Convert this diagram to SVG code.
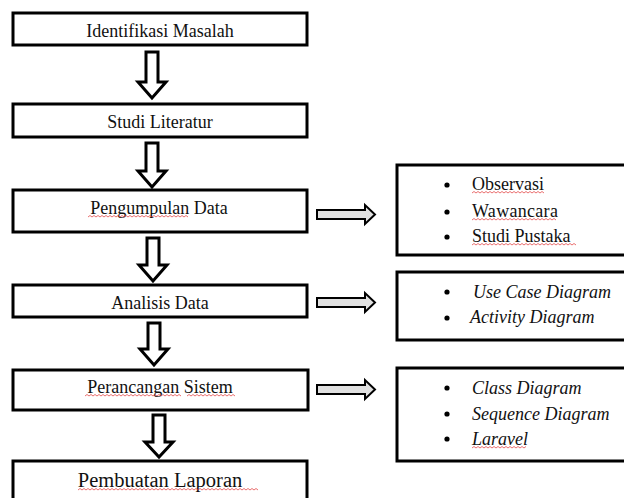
<svg xmlns="http://www.w3.org/2000/svg" width="624" height="498" viewBox="0 0 624 498">
<style>
.box{fill:#fff;stroke:#000;stroke-width:3}
text{font-family:"Liberation Serif","Times New Roman",serif;fill:#111}
.t{font-size:18px;text-anchor:middle}
.r{font-size:18px}
.i{font-style:italic}
.darr{fill:#fff;stroke:#000;stroke-width:3;stroke-linejoin:miter}
.rarr{fill:#e0e0e0;stroke:#000;stroke-width:2}
.sq{fill:none;stroke:#e03030;stroke-width:0.7}
</style>
<defs>
<circle id="dot" r="2.6" fill="#000"/>
</defs>
<rect width="624" height="498" fill="#fff"/>

<g id="connectors">
<path class="darr" d="M146 52 H158 V82 H166 L152 98 L138 82 H146 Z"/>
<path class="darr" d="M146 143 H158 V171 H166 L152 187 L138 171 H146 Z"/>
<path class="darr" d="M147 238 H159 V265 H167 L153 281 L139 265 H147 Z"/>
<path class="darr" d="M148 323 H160 V349 H168 L154 365 L140 349 H148 Z"/>
<path class="darr" d="M153 415 H165 V442 H173 L159 457 L145 442 H153 Z"/>
<path class="rarr" d="M317 210 H365 V205 L375 214.5 L365 224 V219 H317 Z"/>
<path class="rarr" d="M317 298 H365 V293 L375 302.5 L365 312 V307 H317 Z"/>
<path class="rarr" d="M317 385 H365 V380 L375 389.5 L365 399 V394 H317 Z"/>
</g>

<g id="n1"><rect class="box" x="13" y="13" width="294" height="32"/><text class="t" x="160" y="37" font-family="Liberation Serif, serif">Identifikasi Masalah</text></g>
<g id="n2"><rect class="box" x="13" y="104" width="294" height="33"/><text class="t" x="160" y="128" font-family="Liberation Serif, serif">Studi Literatur</text></g>
<g id="n3"><rect class="box" x="13" y="190" width="294" height="42"/><text class="t" x="159" y="214" font-family="Liberation Serif, serif">Pengumpulan  Data</text>
<path class="sq" d="M88 217 l2 -1.5 l2 1.5 l2 -1.5 l2 1.5 l2 -1.5 l2 1.5 l2 -1.5 l2 1.5 l2 -1.5 l2 1.5 l2 -1.5 l2 1.5 l2 -1.5 l2 1.5 l2 -1.5 l2 1.5 l2 -1.5 l2 1.5 l2 -1.5 l2 1.5 l2 -1.5 l2 1.5 l2 -1.5 l2 1.5 l2 -1.5 l2 1.5 l2 -1.5 l2 1.5 l2 -1.5 l2 1.5 l2 -1.5 l2 1.5 l2 -1.5 l2 1.5 l2 -1.5 l2 1.5 l2 -1.5 l2 1.5 l2 -1.5 l2 1.5 l2 -1.5 l2 1.5 l2 -1.5 l2 1.5 l2 -1.5 l2 1.5 l2 -1.5 l2 1.5 l2 -1.5 l2 1.5"/></g>
<g id="n4"><rect class="box" x="13" y="285" width="294" height="32"/><text class="t" x="160" y="309" font-family="Liberation Serif, serif">Analisis Data</text></g>
<g id="n5"><rect class="box" x="13" y="370" width="295" height="40"/><text class="t" x="160" y="393" font-family="Liberation Serif, serif">Perancangan  Sistem</text>
<path class="sq" d="M85 396 l2 -1.5 l2 1.5 l2 -1.5 l2 1.5 l2 -1.5 l2 1.5 l2 -1.5 l2 1.5 l2 -1.5 l2 1.5 l2 -1.5 l2 1.5 l2 -1.5 l2 1.5 l2 -1.5 l2 1.5 l2 -1.5 l2 1.5 l2 -1.5 l2 1.5 l2 -1.5 l2 1.5 l2 -1.5 l2 1.5 l2 -1.5 l2 1.5 l2 -1.5 l2 1.5 l2 -1.5 l2 1.5 l2 -1.5 l2 1.5 l2 -1.5 l2 1.5 l2 -1.5 l2 1.5 l2 -1.5 l2 1.5 l2 -1.5 l2 1.5 l2 -1.5 l2 1.5 l2 -1.5 l2 1.5 l2 -1.5 l2 1.5 l2 -1.5 l2 1.5"/>
<path class="sq" d="M187 396 l2 -1.5 l2 1.5 l2 -1.5 l2 1.5 l2 -1.5 l2 1.5 l2 -1.5 l2 1.5 l2 -1.5 l2 1.5 l2 -1.5 l2 1.5 l2 -1.5 l2 1.5 l2 -1.5 l2 1.5 l2 -1.5 l2 1.5 l2 -1.5 l2 1.5 l2 -1.5 l2 1.5 l2 -1.5 l2 1.5"/></g>
<g id="n6"><rect class="box" x="13" y="461" width="294" height="45"/><text class="t" x="160" y="487" font-family="Liberation Serif, serif" style="font-size:20.5px">Pembuatan Laporan</text>
<path class="sq" d="M78 490 l2 -1.5 l2 1.5 l2 -1.5 l2 1.5 l2 -1.5 l2 1.5 l2 -1.5 l2 1.5 l2 -1.5 l2 1.5 l2 -1.5 l2 1.5 l2 -1.5 l2 1.5 l2 -1.5 l2 1.5 l2 -1.5 l2 1.5 l2 -1.5 l2 1.5 l2 -1.5 l2 1.5 l2 -1.5 l2 1.5 l2 -1.5 l2 1.5 l2 -1.5 l2 1.5 l2 -1.5 l2 1.5 l2 -1.5 l2 1.5 l2 -1.5 l2 1.5 l2 -1.5 l2 1.5 l2 -1.5 l2 1.5 l2 -1.5 l2 1.5 l2 -1.5 l2 1.5 l2 -1.5 l2 1.5 l2 -1.5 l2 1.5 l2 -1.5 l2 1.5 l2 -1.5 l2 1.5 l2 -1.5 l2 1.5 l2 -1.5 l2 1.5 l2 -1.5 l2 1.5 l2 -1.5 l2 1.5 l2 -1.5 l2 1.5 l2 -1.5 l2 1.5 l2 -1.5 l2 1.5 l2 -1.5 l2 1.5 l2 -1.5 l2 1.5 l2 -1.5 l2 1.5 l2 -1.5 l2 1.5 l2 -1.5 l2 1.5 l2 -1.5 l2 1.5 l2 -1.5 l2 1.5 l2 -1.5 l2 1.5 l2 -1.5 l2 1.5 l2 -1.5 l2 1.5 l2 -1.5 l2 1.5 l2 -1.5 l2 1.5 l2 -1.5 l2 1.5"/></g>

<g id="r1"><rect class="box" x="397" y="165" width="240" height="90"/>
<use href="#dot" x="447" y="185"/><use href="#dot" x="447" y="212"/><use href="#dot" x="447" y="237"/>
<text class="r" x="472" y="190" font-family="Liberation Serif, serif">Observasi</text><text class="r" x="472" y="217" font-family="Liberation Serif, serif" style="letter-spacing:0.3px">Wawancara</text><text class="r" x="472" y="242" font-family="Liberation Serif, serif">Studi Pustaka</text>
<path class="sq" d="M472 193 l2 -1.5 l2 1.5 l2 -1.5 l2 1.5 l2 -1.5 l2 1.5 l2 -1.5 l2 1.5 l2 -1.5 l2 1.5 l2 -1.5 l2 1.5 l2 -1.5 l2 1.5 l2 -1.5 l2 1.5 l2 -1.5 l2 1.5 l2 -1.5 l2 1.5 l2 -1.5 l2 1.5 l2 -1.5 l2 1.5 l2 -1.5 l2 1.5 l2 -1.5 l2 1.5 l2 -1.5 l2 1.5 l2 -1.5 l2 1.5 l2 -1.5 l2 1.5 l2 -1.5 l2 1.5"/>
<path class="sq" d="M472 220 l2 -1.5 l2 1.5 l2 -1.5 l2 1.5 l2 -1.5 l2 1.5 l2 -1.5 l2 1.5 l2 -1.5 l2 1.5 l2 -1.5 l2 1.5 l2 -1.5 l2 1.5 l2 -1.5 l2 1.5 l2 -1.5 l2 1.5 l2 -1.5 l2 1.5 l2 -1.5 l2 1.5 l2 -1.5 l2 1.5 l2 -1.5 l2 1.5 l2 -1.5 l2 1.5 l2 -1.5 l2 1.5 l2 -1.5 l2 1.5 l2 -1.5 l2 1.5 l2 -1.5 l2 1.5 l2 -1.5 l2 1.5 l2 -1.5 l2 1.5 l2 -1.5 l2 1.5"/>
<path class="sq" d="M472 245 l2 -1.5 l2 1.5 l2 -1.5 l2 1.5 l2 -1.5 l2 1.5 l2 -1.5 l2 1.5 l2 -1.5 l2 1.5 l2 -1.5 l2 1.5 l2 -1.5 l2 1.5 l2 -1.5 l2 1.5 l2 -1.5 l2 1.5 l2 -1.5 l2 1.5 l2 -1.5 l2 1.5 l2 -1.5 l2 1.5 l2 -1.5 l2 1.5 l2 -1.5 l2 1.5 l2 -1.5 l2 1.5 l2 -1.5 l2 1.5 l2 -1.5 l2 1.5 l2 -1.5 l2 1.5 l2 -1.5 l2 1.5 l2 -1.5 l2 1.5 l2 -1.5 l2 1.5 l2 -1.5 l2 1.5 l2 -1.5 l2 1.5 l2 -1.5 l2 1.5 l2 -1.5 l2 1.5 l2 -1.5 l2 1.5"/></g>
<g id="r2"><rect class="box" x="397" y="272" width="240" height="68"/>
<use href="#dot" x="447" y="292"/><use href="#dot" x="447" y="318"/>
<text class="r i" x="473" y="298" font-family="Liberation Serif, serif">Use Case Diagram</text><text class="r i" x="470" y="323" font-family="Liberation Serif, serif">Activity  Diagram</text></g>
<g id="r3"><rect class="box" x="397" y="368" width="240" height="93"/>
<use href="#dot" x="447" y="388"/><use href="#dot" x="447" y="414"/><use href="#dot" x="447" y="439"/>
<text class="r i" x="472" y="394" font-family="Liberation Serif, serif">Class Diagram</text><text class="r i" x="472" y="420" font-family="Liberation Serif, serif">Sequence Diagram</text><text class="r i" x="472" y="445" font-family="Liberation Serif, serif">Laravel</text>
<path class="sq" d="M472 448 l2 -1.5 l2 1.5 l2 -1.5 l2 1.5 l2 -1.5 l2 1.5 l2 -1.5 l2 1.5 l2 -1.5 l2 1.5 l2 -1.5 l2 1.5 l2 -1.5 l2 1.5 l2 -1.5 l2 1.5 l2 -1.5 l2 1.5 l2 -1.5 l2 1.5 l2 -1.5 l2 1.5 l2 -1.5 l2 1.5 l2 -1.5 l2 1.5 l2 -1.5"/></g>
</svg>
